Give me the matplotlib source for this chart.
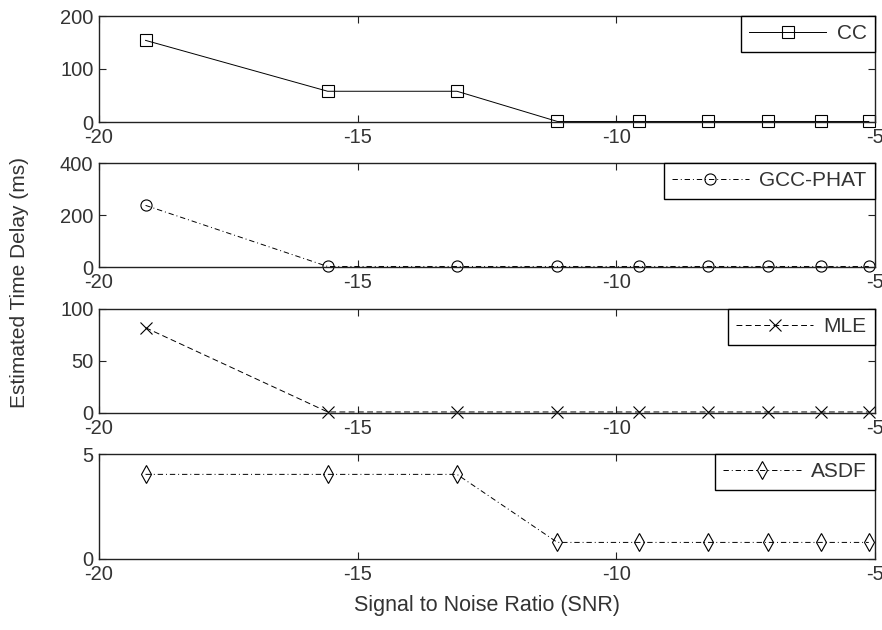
import matplotlib
matplotlib.use("Agg")
import matplotlib.pyplot as plt

plt.rcParams['font.family'] = ['Liberation Sans', 'DejaVu Sans']
plt.rcParams['axes.unicode_minus'] = False

snr = [-19.1, -15.58, -13.08, -11.14, -9.56, -8.22, -7.06, -6.04, -5.12]
cc = [154, 58, 58, 1, 1, 1, 1, 1, 1]
gcc_phat = [237, 2, 2, 2, 2, 2, 2, 2, 2]
mle = [82, 1, 1, 1, 1, 1, 1, 1, 1]
asdf = [4.03, 4.03, 4.03, 0.79, 0.79, 0.79, 0.79, 0.79, 0.79]

series_names = ['CC', 'GCC-PHAT', 'MLE', 'ASDF']
series_values = [cc, gcc_phat, mle, asdf]
y_limits = [(0, 200), (0, 400), (0, 100), (0, 5)]
y_ticks = [[0, 100, 200], [0, 200, 400], [0, 50, 100], [0, 5]]
x_ticks = [-20, -15, -10, -5]
x_tick_labels = ['-20', '-15', '-10', '-5']

markers = ['s', 'o', 'x', 'd']
dashes = [None, (5.5, 3, 1, 3), (6, 3.5), (5.5, 3, 1, 3)]

fig = plt.figure(figsize=(8.82, 6.3), dpi=100)
fig.patch.set_facecolor('white')

left = 99 / 882
width = (875 - 99) / 882
tops = [16, 163, 309, 454]
bottoms = [122, 267, 413, 559]

for i in range(4):
    b = 1 - bottoms[i] / 630
    h = (bottoms[i] - tops[i]) / 630
    ax = fig.add_axes([left, b, width, h])
    kw = dict(color='black', linewidth=0.7, marker=markers[i],
              markersize=8 if markers[i] != 'd' else 9,
              markerfacecolor='none', markeredgecolor='black',
              markeredgewidth=0.8, label=series_names[i], clip_on=False)
    line, = ax.plot(snr, series_values[i], **kw)
    if dashes[i] is not None:
        line.set_dashes(dashes[i])
    ax.set_xlim(-20, -5)
    ax.set_ylim(*y_limits[i])
    ax.set_xticks(x_ticks)
    ax.set_xticklabels(x_tick_labels)
    ax.set_yticks(y_ticks[i])
    ax.tick_params(direction='in', length=5, width=0.8, top=True, right=True,
                   labelsize=14.5, pad=4, colors='#222222', labelcolor='#333333')
    for sp in ax.spines.values():
        sp.set_linewidth(1.0)
        sp.set_color('#222222')
    leg = ax.legend(loc='upper right', borderaxespad=0, fancybox=False,
                    framealpha=1, edgecolor='black', fontsize=15,
                    handlelength=3.7, handletextpad=0.5, borderpad=0.4,
                    labelcolor='#333333')
    leg.get_frame().set_linewidth(1.0)
    if i == 3:
        ax.set_xlabel('Signal to Noise Ratio (SNR)', fontsize=15.5,
                      color='#333333', labelpad=8)

fig.text(20 / 882, 1 - 283 / 630, 'Estimated Time Delay (ms)', rotation=90,
         ha='center', va='center', fontsize=15, color='#333333')

fig.savefig('out.png', dpi=100, facecolor='white')
